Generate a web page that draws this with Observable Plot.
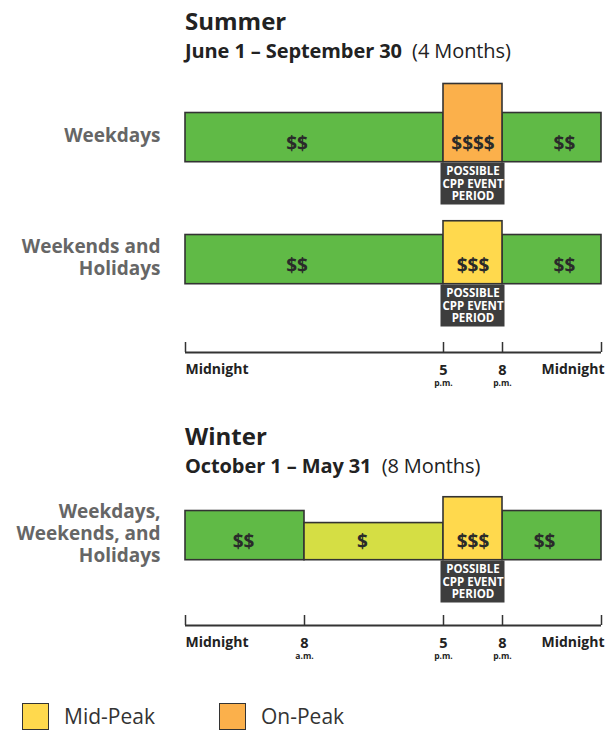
<!DOCTYPE html>
<html>
<head>
<meta charset="utf-8">
<script src="https://cdn.jsdelivr.net/npm/d3@7"></script>
<script src="https://cdn.jsdelivr.net/npm/@observablehq/plot@0.6"></script>
<style>
  html, body { margin: 0; padding: 0; background: #fff; }
  body { font-family: "Open Sans", sans-serif; width: 615px; overflow: hidden; }
  .block { position: relative; width: 615px; }
  .title { position: absolute; left: 185px; font-size: 24px; font-weight: 700; line-height: 30px; color: #222; white-space: nowrap; }
  .sub { position: absolute; left: 185px; font-size: 20px; font-weight: 700; line-height: 22px; color: #222; white-space: nowrap; letter-spacing: -0.1px; }
  .sub span { font-weight: 400; }
  svg { display: block; }
  .sw { position: absolute; height: 27px; border: 1.5px solid #333; box-sizing: border-box; }
  .lt { position: absolute; font-size: 21px; line-height: 27px; color: #333; white-space: nowrap; }
</style>
</head>
<body>
<div id="root"></div>
<script>
// ---------- data ----------
const hourBreaks = [0, 8, 17, 20, 24];            // breakpoints of the (non-uniform) time axis
const hourPixels = [185, 304, 443, 502, 601];     // where those breakpoints fall

const tierNames  = ["$", "$$", "$$$", "$$$$"];
const tierLevels = [0.755, 1, 1.28, 1.59];        // relative bar heights
const tierColors = ["#d5de44", "#60ba46", "#ffd94d", "#fbb04b"];

const summerRows   = ["Weekdays", "Weekends and Holidays"];
const summerLabels = ["Weekdays", "Weekends and\nHolidays"];
const summerStart  = [0, 20, 17, 0, 20, 17];
const summerEnd    = [17, 24, 20, 17, 24, 20];
const summerTier   = ["$$", "$$", "$$$$", "$$", "$$", "$$$"];
const summerRowOf  = [0, 0, 0, 1, 1, 1];
const summerLabelHour = [7.5, 22.5, 18.5, 7.5, 22.5, 18.5];

const winterRows   = ["Weekdays, Weekends, and Holidays"];
const winterLabels = ["Weekdays,\nWeekends, and\nHolidays"];
const winterStart  = [0, 8, 20, 17];
const winterEnd    = [8, 17, 24, 20];
const winterTier   = ["$$", "$", "$$", "$$$"];
const winterLabelHour = [3.9, 11.75, 21.7, 18.5];

const cppStart = 17, cppEnd = 20;
const cppText = "POSSIBLE\nCPP EVENT\nPERIOD";

const summerTicks = [0, 17, 20, 24];
const summerTickMain = ["Midnight", "5", "8", "Midnight"];
const summerTickSub  = ["", "p.m.", "p.m.", ""];
const winterTicks = [0, 8, 17, 20, 24];
const winterTickMain = ["Midnight", "8", "5", "8", "Midnight"];
const winterTickSub  = ["", "a.m.", "p.m.", "p.m.", ""];

const legendNames  = ["Mid-Peak", "On-Peak"];
const legendColors = ["#ffd94d", "#fbb04b"];

// ---------- helpers ----------
const FONT = "Open Sans";
const levelOf = t => tierLevels[tierNames.indexOf(t)];
const colorOf = t => tierColors[tierNames.indexOf(t)];
const xScale = {type: "linear", domain: hourBreaks, range: hourPixels, axis: null};
const yDomain = [-0.88, 1.6];

function panel(rows, labels, segs, height, marginTop) {
  const rowData = rows.map((r, i) => ({row: r, label: labels[i]}));
  const cpp = rows.map(r => ({row: r, start: cppStart, end: cppEnd}));
  return Plot.plot({
    width: 615, height, marginTop, marginBottom: 0, marginLeft: 0, marginRight: 0,
    style: {fontFamily: FONT, background: "#fff"},
    x: xScale,
    y: {type: "linear", domain: yDomain, axis: null},
    fy: {domain: rows, axis: null, padding: 0},
    marks: [
      Plot.rect(segs.filter(d => d.tier === "$$" || d.tier === "$"), {
        fy: "row", x1: "start", x2: "end", y1: 0, y2: d => levelOf(d.tier),
        fill: d => colorOf(d.tier), stroke: "#333", strokeWidth: 1.6
      }),
      Plot.rect(segs.filter(d => d.tier === "$$$" || d.tier === "$$$$"), {
        fy: "row", x1: "start", x2: "end", y1: 0, y2: d => levelOf(d.tier),
        fill: d => colorOf(d.tier), stroke: "#333", strokeWidth: 1.6
      }),
      Plot.text(segs, {
        fy: "row", x: "labelHour", y: 0.37, text: "tier",
        fontSize: 19, fontWeight: 700, fill: "#2a2a2a"
      }),
      Plot.rect(cpp, {
        fy: "row", x1: "start", x2: "end", y1: -0.87, y2: 0,
        insetLeft: -2.5, insetRight: -2.5, insetTop: 0.8,
        fill: "#3d3d3d"
      }),
      Plot.text(cpp, {
        fy: "row", x: d => (d.start + d.end) / 2, y: -0.44, text: () => cppText,
        fontSize: 11.5, fontWeight: 700, fill: "#fff", lineHeight: 1.07
      }),
      Plot.text(rowData, {
        fy: "row", x: 0, y: 0.56, dx: -25, text: "label",
        textAnchor: "end", fontSize: 19, fontWeight: 700, fill: "#666", lineHeight: 1.17
      })
    ]
  });
}

function axis(ticks, mains, subs, marginTop) {
  const data = ticks.map((h, i) => ({hour: h, main: mains[i], sub: subs[i]}));
  const last = ticks[ticks.length - 1];
  const mid = data.filter(d => d.hour !== ticks[0] && d.hour !== last);
  return Plot.plot({
    width: 615, height: 63, marginTop, marginBottom: 63 - marginTop - 10, marginLeft: 0, marginRight: 0,
    style: {fontFamily: FONT, background: "#fff"},
    x: xScale,
    y: {type: "linear", domain: [0, 1], axis: null},
    marks: [
      Plot.ruleY([0], {x1: ticks[0], x2: last, stroke: "#333", strokeWidth: 2}),
      Plot.ruleX(ticks, {y1: 0, y2: 1, stroke: "#333", strokeWidth: 1.5}),
      Plot.text(data.filter(d => d.hour === ticks[0]), {x: "hour", text: "main", frameAnchor: "bottom", lineAnchor: "top", dy: 12, textAnchor: "start", fontSize: 14, fontWeight: 700, fill: "#222"}),
      Plot.text(data.filter(d => d.hour === last), {x: "hour", text: "main", frameAnchor: "bottom", lineAnchor: "top", dy: 12, dx: 3, textAnchor: "end", fontSize: 14, fontWeight: 700, fill: "#222"}),
      Plot.text(mid, {x: "hour", text: "main", frameAnchor: "bottom", lineAnchor: "top", dy: 12, fontSize: 14.5, fontWeight: 700, fill: "#222"}),
      Plot.text(mid, {x: "hour", text: "sub", frameAnchor: "bottom", lineAnchor: "top", dy: 27, fontSize: 8.5, fontWeight: 700, fill: "#222"})
    ]
  });
}

function header(height, top, title, subBold, subRegular) {
  const b = document.createElement("div");
  b.className = "block";
  b.style.height = height + "px";
  b.innerHTML = `<div class="title" style="top:${top}px">${title}</div>` +
    `<div class="sub" style="top:${top + 34}px">${subBold}&nbsp; <span>${subRegular}</span></div>`;
  return b;
}

// ---------- build ----------
const root = document.getElementById("root");

const summerSegs = summerStart.map((s, i) => ({
  row: summerRows[summerRowOf[i]], start: s, end: summerEnd[i], tier: summerTier[i], labelHour: summerLabelHour[i]
}));
const winterSegs = winterStart.map((s, i) => ({
  row: winterRows[0], start: s, end: winterEnd[i], tier: winterTier[i], labelHour: winterLabelHour[i]
}));

root.appendChild(header(70, 6, "Summer", "June 1 – September 30", "(4 Months)"));
root.appendChild(panel(summerRows, summerLabels, summerSegs, 257, 13));
root.appendChild(axis(summerTicks, summerTickMain, summerTickSub, 15));
root.appendChild(header(88, 31, "Winter", "October 1 – May 31", "(8 Months)"));
root.appendChild(panel(winterRows, winterLabels, winterSegs, 125, 3));
root.appendChild(axis(winterTicks, winterTickMain, winterTickSub, 12));

const leg = document.createElement("div");
leg.className = "block";
leg.style.height = "64px";
const swX = [22, 219], txX = [64, 261];
leg.innerHTML = legendNames.map((n, i) =>
  `<div class="sw" style="left:${swX[i]}px;top:37px;width:27px;background:${legendColors[i]}"></div>` +
  `<div class="lt" style="left:${txX[i]}px;top:37px">${n}</div>`).join("");
root.appendChild(leg);
</script>
</body>
</html>
